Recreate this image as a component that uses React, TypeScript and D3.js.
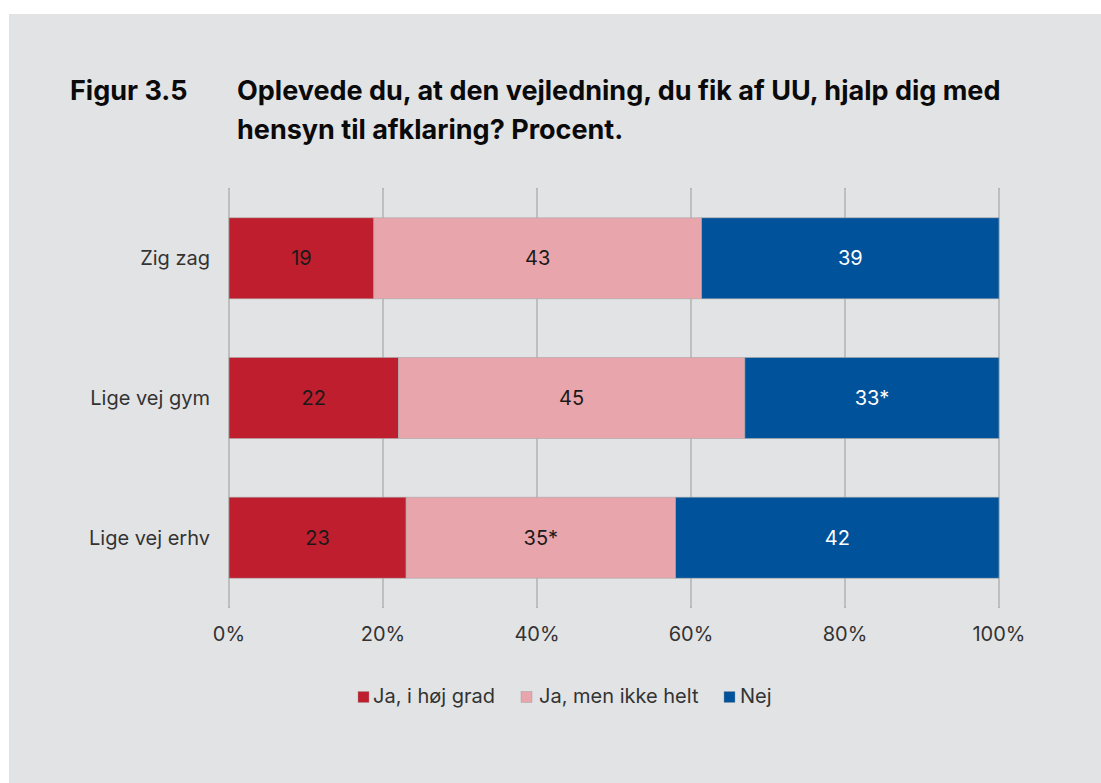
import React from "react";
import * as d3 from "d3";

const categories = ["Zig zag", "Lige vej gym", "Lige vej erhv"];
const seriesNames = ["Ja, i høj grad", "Ja, men ikke helt", "Nej"];
const seriesColors = ["#be1e2d", "#e8a5ab", "#00529b"];
const labelColors = ["#1a1a1a", "#1a1a1a", "#ffffff"];
const jaHoejGrad = [19, 22, 23];
const jaMenIkkeHelt = [43, 45, 35];
const nej = [39, 33, 42];
const valueLabels = [
  ["19", "43", "39"],
  ["22", "45", "33*"],
  ["23", "35*", "42"],
];
const ticks = [0, 20, 40, 60, 80, 100];
const titleNum = "Figur 3.5";
const titleLines = [
  "Oplevede du, at den vejledning, du fik af UU, hjalp dig med",
  "hensyn til afklaring? Procent.",
];

const W = 1101;
const H = 783;
const FONT = "Inter, 'Noto Sans', sans-serif";

export default function App() {
  const x = d3.scaleLinear().domain([0, 100]).range([229, 999]);
  const y = d3.scaleBand().domain(categories).range([188.5, 607.5]).paddingInner(0.42).paddingOuter(0.21);

  const rows = categories.map((c, i) => {
    const vals = [jaHoejGrad[i], jaMenIkkeHelt[i], nej[i]];
    const total = d3.sum(vals);
    const normalized = vals.map((v) => (v / total) * 100);
    const stack = d3.stack<number[]>().keys(["0", "1", "2"])([normalized as any]);
    return { c, i, segs: stack.map((s) => s[0]) };
  });

  const legendItems = [
    { sx: 358, tx: 373 },
    { sx: 521, tx: 539 },
    { sx: 724, tx: 740 },
  ];

  return (
    <svg
      width={W}
      height={H}
      style={{ position: "absolute", left: 0, top: 0, fontFamily: FONT }}
    >
      <rect x={0} y={0} width={W} height={H} fill="#ffffff" />
      <rect x={9} y={14} width={W - 9} height={H - 14} fill="#e2e3e5" />

      <text x={70} y={100} fontSize={27} fontWeight={700} fill="#0a0a0a">
        {titleNum}
      </text>
      {titleLines.map((t, i) => (
        <text key={i} x={237} y={100 + i * 39} fontSize={27} fontWeight={700} fill="#0a0a0a">
          {t}
        </text>
      ))}

      {ticks.map((t) => (
        <g key={t}>
          <line x1={x(t)} x2={x(t)} y1={188} y2={608} stroke="#b3b3b3" strokeWidth={2} />
          <line x1={x(t)} x2={x(t)} y1={189} y2={607} stroke="#d6d6d6" strokeWidth={0.7} />
          <text x={x(t)} y={641} textAnchor="middle" fontSize={20} fill="#333333">
            {t}%
          </text>
        </g>
      ))}

      {rows.map((r) => (
        <g key={r.c}>
          <text
            x={210}
            y={(y(r.c) as number) + y.bandwidth() / 2 + 7}
            textAnchor="end"
            fontSize={20}
            fill="#333333"
          >
            {r.c}
          </text>
          {r.segs.map((s, k) => (
            <g key={k}>
              <rect
                x={x(s[0])}
                y={y(r.c) as number}
                width={x(s[1]) - x(s[0])}
                height={y.bandwidth()}
                fill={seriesColors[k]}
                stroke="#a9a9a9"
                strokeWidth={0.6}
              />
              <text
                x={(x(s[0]) + x(s[1])) / 2}
                y={(y(r.c) as number) + y.bandwidth() / 2 + 7}
                textAnchor="middle"
                fontSize={20}
                fill={labelColors[k]}
              >
                {valueLabels[r.i][k]}
              </text>
            </g>
          ))}
        </g>
      ))}

      {seriesNames.map((n, k) => (
        <g key={n}>
          <rect x={legendItems[k].sx} y={691.5} width={11} height={11} fill={seriesColors[k]} stroke="#999" strokeWidth={0.4} />
          <text x={legendItems[k].tx} y={703} fontSize={20} fill="#333333">
            {n}
          </text>
        </g>
      ))}
    </svg>
  );
}
